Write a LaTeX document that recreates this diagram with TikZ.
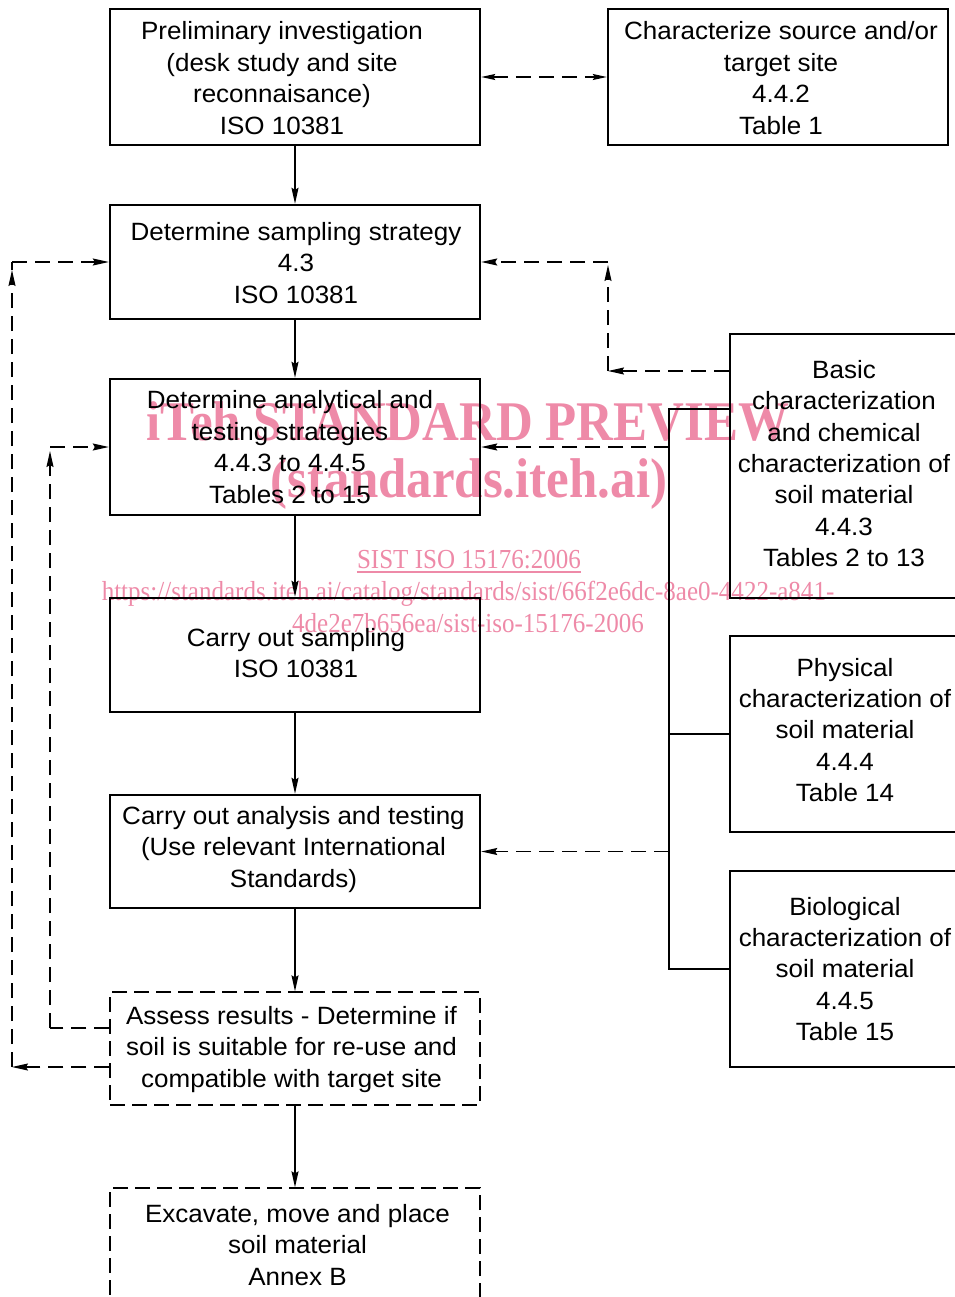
\documentclass[tikz,border=0pt]{standalone}
\usepackage{fontspec}
\setmainfont[FakeStretch=1.04]{Liberation Sans}
\newfontfamily\wmfont[FakeStretch=0.91]{Liberation Serif}
\usetikzlibrary{arrows.meta,calc}
\definecolor{wmpink}{RGB}{238,138,168}
\begin{document}
\begin{tikzpicture}[x=1pt,y=-1pt,
  box/.style={draw,line width=2.4pt,rectangle,inner sep=0pt},
  dbox/.style={box,line width=1.3pt,dash pattern=on 15pt off 7pt},
  txt/.style={inner sep=0pt,align=center,font=\fontsize{25}{31.4}\selectfont},
  tip/.style={-{Stealth[length=16pt,width=7pt,inset=2pt]}},
  conn/.style={line width=1.3pt,tip},
  dconn/.style={line width=1.3pt,dash pattern=on 15pt off 8pt},
  bracketline/.style={line width=1.1pt},
  wm/.style={text=wmpink,inner sep=0pt,anchor=base}]
\useasboundingbox (0,0) rectangle (954,1297);
% watermark (behind the diagram)
\node[wm,font=\wmfont\bfseries\fontsize{56}{60}\selectfont] (w1) at (468,440) {iTeh STANDARD PREVIEW};
\node[wm,font=\wmfont\bfseries\fontsize{56}{60}\selectfont] (w2) at (469,497) {(standards.iteh.ai)};
\node[wm,font=\wmfont\fontsize{27.5}{32}\selectfont] (w3) at (469,568) {SIST ISO 15176:2006};
\draw[wmpink,line width=1.2pt] ($(w3.base west)+(0,4)$) -- ($(w3.base east)+(0,4)$);
\node[wm,font=\wmfont\fontsize{27.5}{32}\selectfont] (w4) at (468,600) {https://standards.iteh.ai/catalog/standards/sist/66f2e6dc-8ae0-4422-a841-};
\node[wm,font=\wmfont\fontsize{27.5}{32}\selectfont] (w5) at (468,632) {4de2e7b656ea/sist-iso-15176-2006};
% main column
\node[box,minimum width=370pt,minimum height=136pt] (A) at (295,77) {};
\node[txt] (At) at ($(A.center)+(-13,1)$)
  {Preliminary investigation\\(desk study and site\\reconnaisance)\\ISO 10381};
\node[box,minimum width=340pt,minimum height=136pt] (B) at (778,77) {};
\node[txt] (Bt) at ($(B.center)+(3,1)$)
  {Characterize source and/or\\target site\\4.4.2\\Table 1};
\node[box,minimum width=370pt,minimum height=114pt] (C) at (295,262) {};
\node[txt] (Ct) at ($(C.center)+(1,1)$)
  {Determine sampling strategy\\4.3\\ISO 10381};
\node[box,minimum width=370pt,minimum height=136pt] (D) at (295,447) {};
\node[txt] (Dt) at ($(D.center)+(-5,0)$)
  {Determine analytical and\\testing strategies\\4.4.3 to 4.4.5\\Tables 2 to 15};
\node[box,minimum width=370pt,minimum height=114pt] (E) at (295,655) {};
\node[txt] (Et) at ($(E.center)+(1,-2)$)
  {Carry out sampling\\ISO 10381};
\node[box,minimum width=370pt,minimum height=113pt] (F) at (295,851.5) {};
\node[txt] (Ft) at ($(F.center)+(-1.5,-2)$)
  {Carry out analysis and testing\\(Use relevant International\\Standards)};
\node[dbox,minimum width=370pt,minimum height=113pt] (G) at (295,1048.5) {};
\node[txt] (Gt) at ($(G.center)+(-3.5,1)$)
  {Assess results - Determine if\\soil is suitable for re-use and\\compatible with target site};
\node[dbox,minimum width=370pt,minimum height=114pt] (H) at (295,1245) {};
\node[txt] (Ht) at ($(H.center)+(2.5,0)$)
  {Excavate, move and place\\soil material\\Annex B};
% right column
\node[box,minimum width=230pt,minimum height=264pt] (Ba) at (845,466) {};
\node[txt] (Bat) at ($(Ba.center)+(-1,-2.5)$)
  {Basic\\characterization\\and chemical\\characterization of\\soil material\\4.4.3\\Tables 2 to 13};
\node[box,minimum width=230pt,minimum height=196pt] (Ph) at (845,734) {};
\node[txt] (Pht) at ($(Ph.center)+(0,-4)$)
  {Physical\\characterization of\\soil material\\4.4.4\\Table 14};
\node[box,minimum width=230pt,minimum height=196pt] (Bi) at (845,969) {};
\node[txt] (Bit) at (Bi.center)
  {Biological\\characterization of\\soil material\\4.4.5\\Table 15};
% main flow
\draw[conn] (A.south) -- (C.north);
\draw[conn] (C.south) -- (D.north);
\draw[conn] (D.south) -- (E.north);
\draw[conn] (E.south) -- (F.north);
\draw[conn] (F.south) -- (G.north);
\draw[conn] (G.south) -- (H.north);
% A <-> B
\draw[dconn,{Stealth[length=14pt,width=6pt,inset=2pt]}-{Stealth[length=14pt,width=6pt,inset=2pt]}] (A.east) -- (B.west);
% outer feedback loop
\coordinate (o1) at (12,1067);
\coordinate (o2) at (12,262);
\draw[dconn,tip] (G.west |- o1) -- (o1);
\draw[dconn,tip,shorten >=8pt] (o1) -- (o2);
\draw[dconn] ($(o2)+(0,8)$) -- (o2);
\draw[dconn,tip] (o2) -- (C.west);
% inner feedback loop
\coordinate (i1) at (50,1028);
\coordinate (i2) at (50,447);
\draw[dconn] (G.west |- i1) -- (i1);
\draw[dconn,tip,shorten >=4pt] (i1) -- (i2);
\draw[dconn,tip] (i2) -- (D.west);
% basic -> sampling strategy
\coordinate (r1) at (608,371);
\coordinate (r2) at (608,262);
\draw[dconn,tip] (Ba.west |- r1) -- (r1);
\draw[dconn,tip,shorten >=3pt] (r1) -- (r2);
\draw[dconn,tip] (r2) -- (C.east);
% bracket
\coordinate (b1) at (669,409);
\draw[bracketline] (Ba.west |- b1) -- (b1) -- (b1 |- Bi.west) -- (Bi.west);
\draw[bracketline] (Ph.west) -- (b1 |- Ph.west);
\draw[dconn,tip] (b1 |- D.east) -- (D.east);
\draw[dconn,tip] (b1 |- F.east) -- (F.east);
\end{tikzpicture}
\end{document}
